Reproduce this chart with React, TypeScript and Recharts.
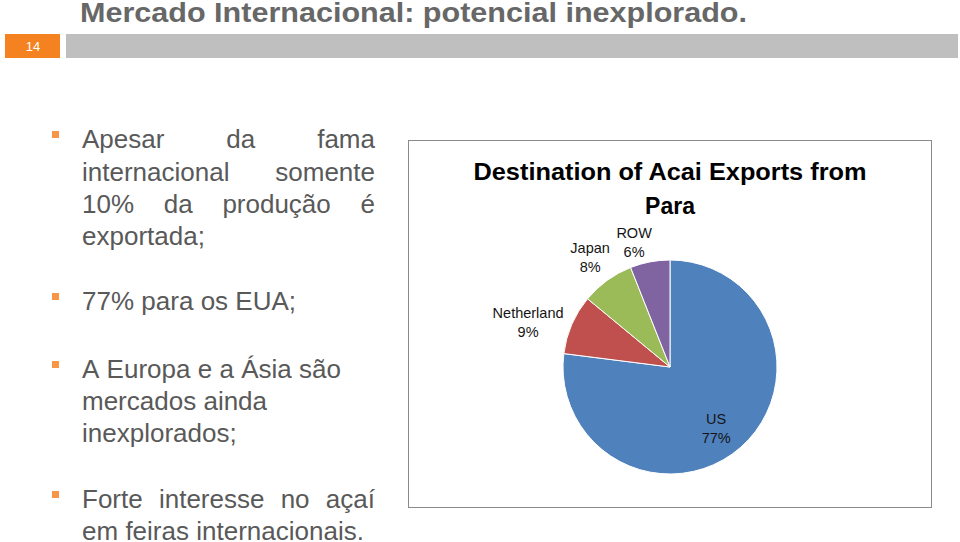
import React from 'react';
import { PieChart, Pie, Cell } from 'recharts';

const categories = ['US', 'Netherland', 'Japan', 'ROW'];
const shares = [77, 9, 8, 6];
const sliceColors = ['#4F81BD', '#C0504D', '#9BBB59', '#8064A2'];
// label placement: radius factor (of outerRadius) and angle tweak in degrees
const labelPlacement = [
  { r: 0.72, da: -4.6 },
  { r: 1.39, da: 6 },
  { r: 1.27, da: 0 },
  { r: 1.21, da: 5.3 },
];

const pageTitle = 'Mercado Internacional: potencial inexplorado.';
const pageNumber = '14';
const chartTitle = ['Destination of Acai Exports from', 'Para'];

const data = categories.map((name, i) => ({ name, value: shares[i] }));

type Line = { text: string; baseline: number; justify: boolean; bullet: boolean };
const bulletLines: Line[] = [
  { text: 'Apesar da fama', baseline: 148, justify: true, bullet: true },
  { text: 'internacional somente', baseline: 181, justify: true, bullet: false },
  { text: '10% da produção é', baseline: 213, justify: true, bullet: false },
  { text: 'exportada;', baseline: 245, justify: false, bullet: false },
  { text: '77% para os EUA;', baseline: 310, justify: false, bullet: true },
  { text: 'A Europa e a Ásia são', baseline: 378, justify: false, bullet: true },
  { text: 'mercados ainda', baseline: 410, justify: false, bullet: false },
  { text: 'inexplorados;', baseline: 442, justify: false, bullet: false },
  { text: 'Forte interesse no açaí', baseline: 508, justify: true, bullet: true },
  { text: 'em feiras internacionais.', baseline: 540, justify: false, bullet: false },
];

const RAD = Math.PI / 180;

const renderLabel = (props: any) => {
  const { cx, cy, midAngle, outerRadius, index, name, value } = props;
  const pl = labelPlacement[index];
  const a = (midAngle + pl.da) * RAD;
  const d = outerRadius * pl.r;
  const x = cx + d * Math.cos(a);
  const y = cy - d * Math.sin(a);
  return (
    <text
      x={x}
      y={y}
      textAnchor="middle"
      fill="#151515"
      fontFamily="'Liberation Sans', Arial, sans-serif"
      fontSize={14.5}
    >
      <tspan x={x} y={y - 4.5}>{name}</tspan>
      <tspan x={x} y={y + 14.5}>{`${value}%`}</tspan>
    </text>
  );
};

export default function App() {
  const font = "'Liberation Sans', Arial, sans-serif";
  return (
    <div style={{ position: 'absolute', left: 0, top: 0, width: 960, height: 542, background: '#fff', overflow: 'hidden' }}>
      {/* header */}
      <svg width={960} height={70} style={{ position: 'absolute', left: 0, top: 0 }}>
        <text
          x={80}
          y={22}
          fontFamily="'Liberation Sans Narrow', 'Liberation Sans', Arial, sans-serif"
          fontWeight="bold"
          fontSize={28}
          fill="#676767"
          textLength={667}
          lengthAdjust="spacingAndGlyphs"
        >
          {pageTitle}
        </text>
        <rect x={5} y={34} width={55} height={24} fill="#F58220" />
        <rect x={66} y={34} width={892} height={24} fill="#BFBFBF" />
        <text x={33} y={51} textAnchor="middle" fontFamily={font} fontSize={13} fill="#fff">
          {pageNumber}
        </text>
      </svg>

      {/* bullets */}
      {bulletLines.map((ln, i) => (
        <React.Fragment key={i}>
          {ln.bullet && (
            <div style={{ position: 'absolute', left: 52, top: ln.baseline - 17, width: 7, height: 7, background: '#F79646' }} />
          )}
          <div
            style={{
              position: 'absolute',
              left: 82,
              top: ln.baseline - 25,
              width: 293,
              fontFamily: font,
              fontSize: 26,
              lineHeight: '32px',
              color: '#595959',
              whiteSpace: 'nowrap',
              display: 'flex',
              justifyContent: ln.justify ? 'space-between' : 'flex-start',
              gap: ln.justify ? 0 : '0.28em',
            }}
          >
            {ln.text.split(' ').map((w, j) => (
              <span key={j}>{w}</span>
            ))}
          </div>
        </React.Fragment>
      ))}

      {/* chart frame */}
      <div style={{ position: 'absolute', left: 408, top: 140, width: 522, height: 366, border: '1.5px solid #8a8a8a' }} />
      <svg width={960} height={542} style={{ position: 'absolute', left: 0, top: 0 }}>
        {chartTitle.map((t, i) => (
          <text
            key={i}
            x={670}
            y={180 + i * 34}
            textAnchor="middle"
            fontFamily={font}
            fontWeight="bold"
            fontSize={23}
            fill="#000"
            {...(i === 0 ? { textLength: 393, lengthAdjust: 'spacingAndGlyphs' } : {})}
          >
            {t}
          </text>
        ))}
      </svg>
      <div style={{ position: 'absolute', left: 408, top: 140 }}>
        <PieChart width={524} height={368} margin={{ top: 0, right: 0, bottom: 0, left: 0 }}>
          <Pie
            data={data}
            dataKey="value"
            nameKey="name"
            cx={262}
            cy={227}
            outerRadius={107}
            startAngle={90}
            endAngle={-270}
            stroke="#ffffff"
            strokeWidth={1}
            label={renderLabel}
            labelLine={false}
            isAnimationActive={false}
          >
            {data.map((d, i) => (
              <Cell key={d.name} fill={sliceColors[i]} />
            ))}
          </Pie>
        </PieChart>
      </div>
    </div>
  );
}
